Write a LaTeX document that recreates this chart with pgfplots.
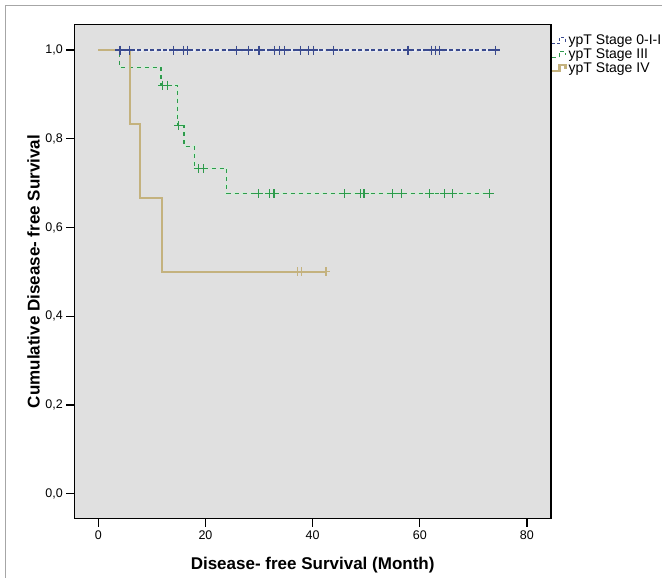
\documentclass[border=0pt]{standalone}
\usepackage{fontspec}
\setmainfont{Liberation Sans}
\usepackage{pgfplots}
\pgfplotsset{compat=1.18}
\definecolor{bgrey}{HTML}{E0E0E0}
\definecolor{sblue}{HTML}{3A4A8E}
\definecolor{sgreen}{HTML}{2E9A4C}
\definecolor{stan}{HTML}{C4B27E}
\definecolor{halog}{HTML}{D2EED8}
\definecolor{halob}{HTML}{E8ECF6}
\begin{document}
\begin{tikzpicture}[x=1bp,y=1bp]
\useasboundingbox (-74.3,-59.3) rectangle (587.7,518.7);
\draw[black!35, line width=0.8bp] (-69.3,-70) -- (-69.3,513.7) -- (700,513.7);
\begin{axis}[
  scale only axis,
  width=476.7bp, height=494.4bp,
  xmin=-4.48, xmax=84.5, ymin=-0.056, ymax=1.058,
  axis background/.style={fill=bgrey},
  axis line style={line width=1.3bp, black},
  xtick={0,20,40,60,80}, ytick={0,0.2,0.4,0.6,0.8,1.0},
  tick pos=left, tick align=outside, major tick length=8bp,
  tick style={line width=1.3bp, black},
  /pgf/number format/assume math mode=true,
  yticklabel style={/pgf/number format/.cd, fixed, fixed zerofill, precision=1, use comma},
  ticklabel style={font=\fontsize{12.5bp}{14bp}\selectfont},
  xticklabel style={yshift=-1bp},
  xlabel={Disease- free Survival (Month)},
  ylabel={Cumulative Disease- free Survival},
  label style={font=\fontsize{17bp}{20bp}\selectfont\bfseries},
  xlabel style={at={(axis description cs:0.5,-0.0937)}, anchor=center},
  ylabel style={at={(axis description cs:-0.0855,0.5)}, anchor=center},
  legend style={at={(axis description cs:1.0,0.983)}, anchor=north west, draw=none, fill=none,
    font=\fontsize{14bp}{15bp}\selectfont, row sep=-1.5bp, inner sep=0pt,
    /tikz/every even column/.append style={column sep=1bp}},
  legend cell align=left,
  legend image code/.code={\draw[#1] (0bp,-3bp) -- (7bp,-3bp) -- (7bp,3bp) -- (13bp,3bp) -- (13bp,-1bp);},
]
% halos
\addplot[forget plot, halob, line width=3bp, dash pattern=on 4bp off 2.5bp, const plot] coordinates {
  (4,1) (74.2,1)};
\addplot[forget plot, halog, line width=3bp, dash pattern=on 4bp off 4bp, const plot] coordinates {
  (4.0,0.961) (11.7,0.921) (14.8,0.829) (16.0,0.782) (17.9,0.733) (24.0,0.676) (73.0,0.676)};
% Stage 0-I-II
\addplot[forget plot, sblue, line width=1.1bp, dash pattern=on 4bp off 2.5bp, const plot] coordinates {
  (0,1) (74.2,1)};
% Stage III
\addplot[forget plot, sgreen, line width=1.1bp, dash pattern=on 4bp off 4bp, const plot] coordinates {
  (0,1) (4.0,0.961) (11.7,0.921) (14.8,0.829) (16.0,0.782) (17.9,0.733) (24.0,0.676) (73.0,0.676)};
% Stage IV
\addplot[forget plot, stan, line width=2.5bp, const plot] coordinates {
  (0,1) (5.9,0.833) (7.8,0.667) (11.9,0.5) (42.5,0.5)};
% censored marks
\addplot[forget plot, only marks, mark=+, mark size=4.5bp, mark options={sblue, solid, line width=1.1bp}] coordinates {
  (4.05,1) (5.9,1) (14.0,1) (15.9,1) (16.7,1) (25.8,1) (28.0,1) (30.0,1) (32.9,1) (33.9,1) (34.8,1)
  (37.8,1) (39.2,1) (40.1,1) (43.9,1) (57.8,1) (62.2,1) (62.9,1) (63.7,1) (74.2,1)};
\addplot[forget plot, only marks, mark=+, mark size=4.5bp, mark options={sgreen, solid, line width=1.1bp}] coordinates {
  (12.0,0.921) (12.9,0.921) (15.0,0.829) (18.7,0.733) (19.6,0.733)
  (29.9,0.676) (32.0,0.676) (32.8,0.676) (45.9,0.676) (49.0,0.676) (49.6,0.676)
  (54.9,0.676) (56.6,0.676) (61.9,0.676) (64.7,0.676) (66.1,0.676) (73.0,0.676)};
\addplot[forget plot, only marks, mark=+, mark size=4.5bp, mark options={stan, solid, line width=1.1bp}] coordinates {
  (37.1,0.5) (38.0,0.5) (42.5,0.5)};
\addlegendimage{sblue, line width=1.1bp, dash pattern=on 3bp off 2bp}
\addlegendentry{ypT Stage 0-I-I}
\addlegendimage{sgreen, line width=1.1bp, dash pattern=on 4bp off 3bp}
\addlegendentry{ypT Stage III}
\addlegendimage{stan, line width=2.5bp}
\addlegendentry{ypT Stage IV}
\end{axis}
\end{tikzpicture}
\end{document}
